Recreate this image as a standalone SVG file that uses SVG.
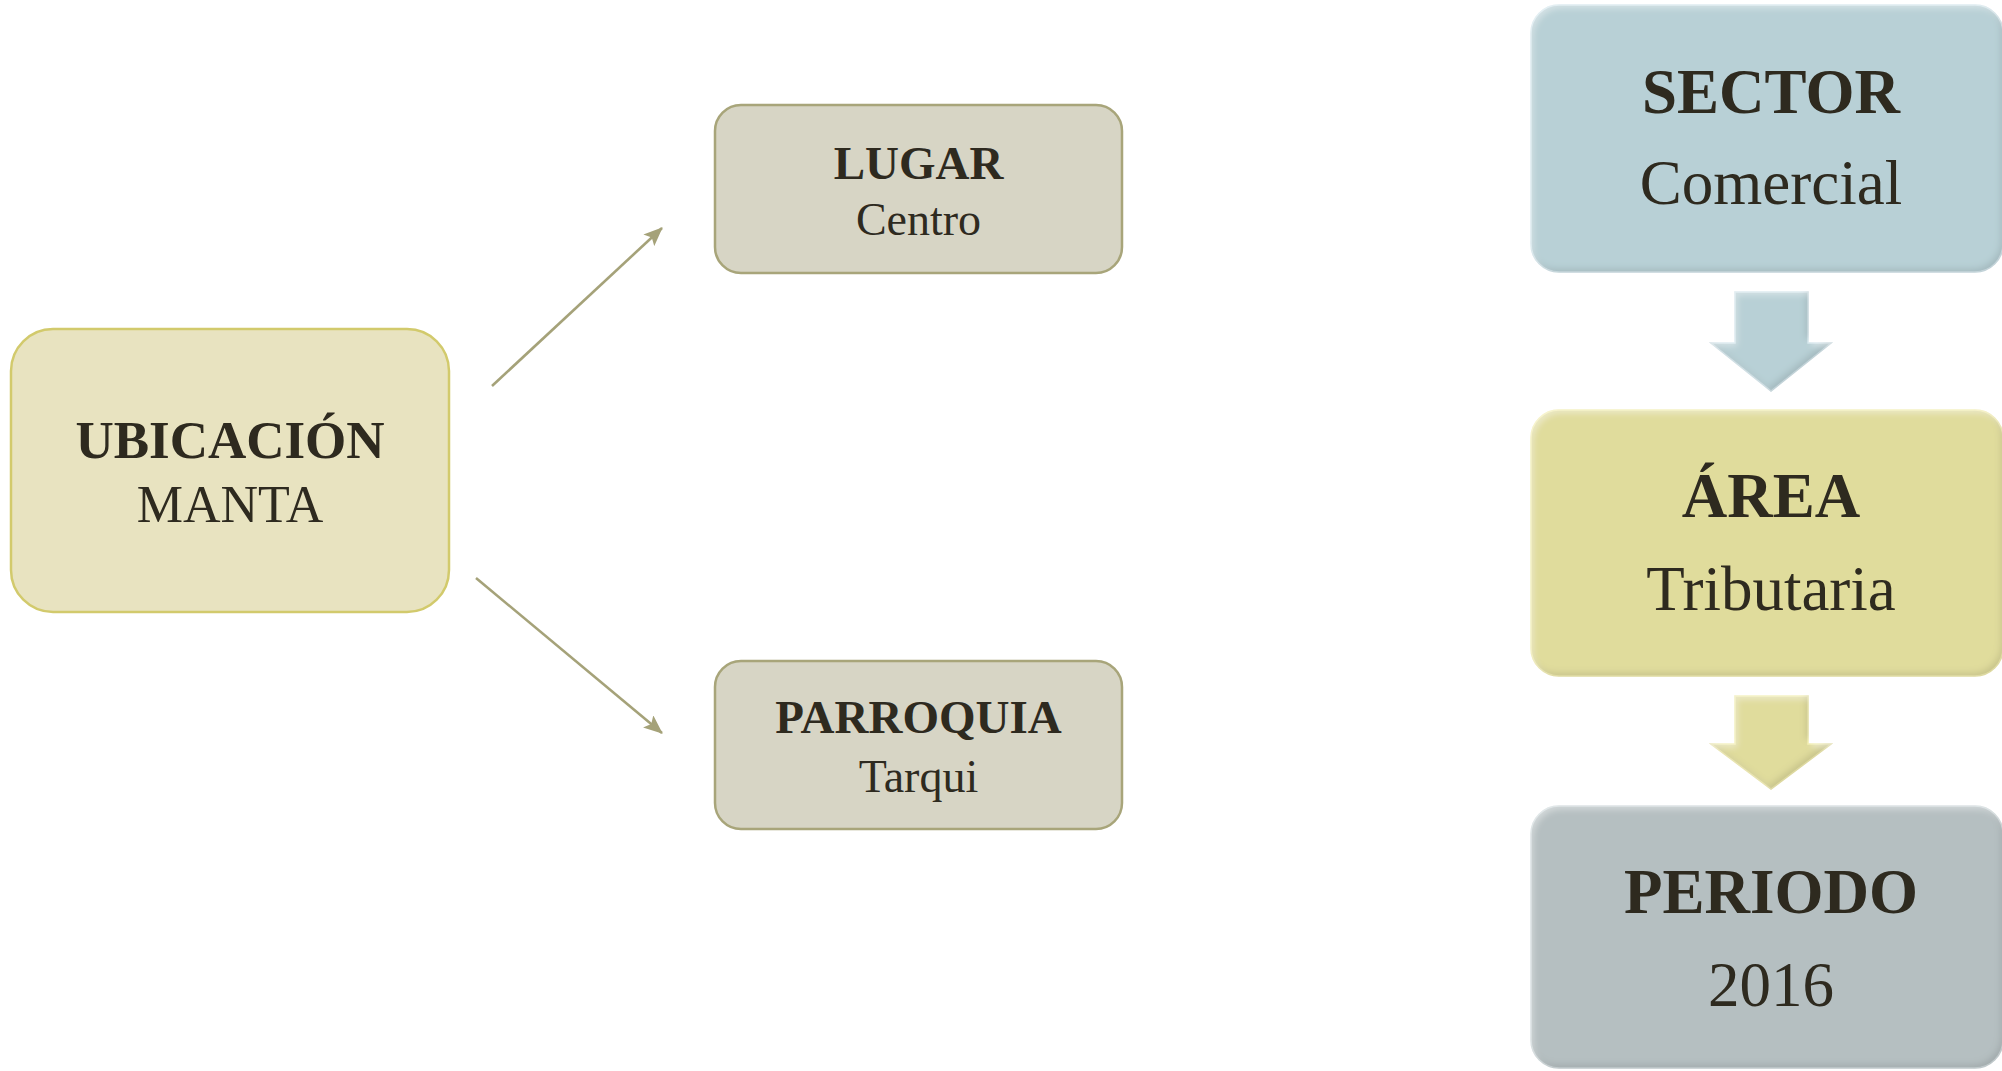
<svg xmlns="http://www.w3.org/2000/svg" width="2002" height="1071" viewBox="0 0 2002 1071">
<style>
.t{font-family:"Liberation Serif","Times New Roman",serif;fill:#2e2a1f;text-anchor:middle}
.b{font-weight:bold}
.conn{stroke:#a5a279;stroke-width:2.6;fill:none}
.tan{fill:#d7d5c5;stroke:#a8a57a;stroke-width:2.5}
</style>
<defs>
<marker id="ah" markerUnits="userSpaceOnUse" markerWidth="20" markerHeight="16" refX="18" refY="8" orient="auto">
<path d="M0,0 L19,8 L0,16 L4,8 Z" fill="#a5a279"/>
</marker>
<filter id="bevel" x="-5%" y="-5%" width="110%" height="110%">
<feGaussianBlur in="SourceAlpha" stdDeviation="3" result="blur"/>
<feOffset in="blur" dx="-3" dy="-4" result="o1"/>
<feComposite in="SourceAlpha" in2="o1" operator="out" result="edgeDark"/>
<feFlood flood-color="#000" flood-opacity="0.22"/>
<feComposite in2="edgeDark" operator="in" result="shadow"/>
<feOffset in="blur" dx="3" dy="4" result="o2"/>
<feComposite in="SourceAlpha" in2="o2" operator="out" result="edgeLight"/>
<feFlood flood-color="#fff" flood-opacity="0.35"/>
<feComposite in2="edgeLight" operator="in" result="light"/>
<feMerge><feMergeNode in="SourceGraphic"/><feMergeNode in="shadow"/><feMergeNode in="light"/></feMerge>
</filter>
</defs>
<rect width="2002" height="1071" fill="#fff"/>
<g id="connectors">
<line class="conn" x1="492" y1="386" x2="662" y2="228" marker-end="url(#ah)"/>
<line class="conn" x1="476" y1="578" x2="662" y2="733" marker-end="url(#ah)"/>
</g>
<g id="ubicacion">
<rect x="11" y="329" width="438" height="283" rx="42" fill="#e8e3c0" stroke="#d2ca6c" stroke-width="2.5"/>
<text class="t b" x="230" y="458" font-size="53">UBICACIÓN</text>
<text class="t" x="230" y="522" font-size="52">MANTA</text>
</g>
<g id="lugar">
<rect class="tan" x="715" y="105" width="407" height="168" rx="26"/>
<text class="t b" x="918.5" y="179" font-size="47">LUGAR</text>
<text class="t" x="918.5" y="235" font-size="46">Centro</text>
</g>
<g id="parroquia">
<rect class="tan" x="715" y="661" width="407" height="168" rx="26"/>
<text class="t b" x="918.5" y="733" font-size="47">PARROQUIA</text>
<text class="t" x="918.5" y="792" font-size="46">Tarqui</text>
</g>
<g id="sector">
<rect x="1531" y="5" width="472" height="267" rx="28" fill="#b8d0d6" stroke="#d6e8ee" stroke-width="1.5" filter="url(#bevel)"/>
<text class="t b" x="1771" y="113" font-size="63">SECTOR</text>
<text class="t" x="1771" y="204" font-size="63">Comercial</text>
</g>
<g id="arrow1">
<path d="M1735,292 H1808 V343 H1831 L1771,391 L1711,343 H1735 Z" fill="#b8d0d6" stroke="#d6e8ee" stroke-width="1.5" filter="url(#bevel)"/>
</g>
<g id="area">
<rect x="1531" y="410" width="472" height="266" rx="28" fill="#e0dc9c" stroke="#f4efb0" stroke-width="1.5" filter="url(#bevel)"/>
<text class="t b" x="1771" y="517" font-size="63">ÁREA</text>
<text class="t" x="1771" y="610" font-size="63">Tributaria</text>
</g>
<g id="arrow2">
<path d="M1735,696 H1808 V744 H1831 L1771,789 L1711,744 H1735 Z" fill="#e0dc9c" stroke="#f4efb0" stroke-width="1.5" filter="url(#bevel)"/>
</g>
<g id="periodo">
<rect x="1531" y="806" width="472" height="262" rx="28" fill="#b5bfc1" stroke="#d2dcde" stroke-width="1.5" filter="url(#bevel)"/>
<text class="t b" x="1771" y="913" font-size="63">PERIODO</text>
<text class="t" x="1771" y="1006" font-size="63">2016</text>
</g>
</svg>
